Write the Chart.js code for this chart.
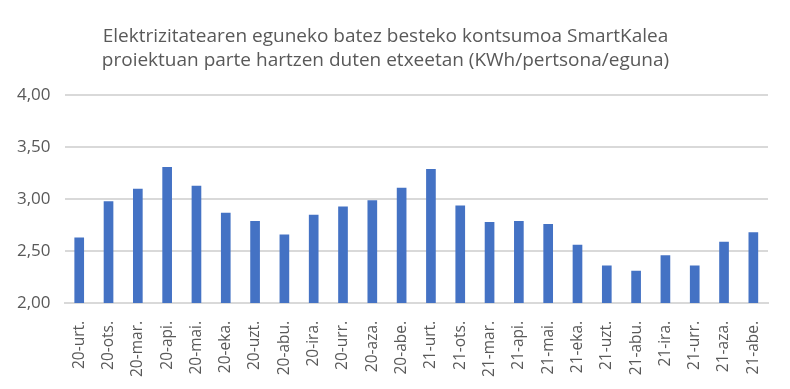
<!DOCTYPE html>
<html>
<head>
<meta charset="utf-8">
<script src="https://cdn.jsdelivr.net/npm/chart.js@4/dist/chart.umd.min.js"></script>
<style>
	html, body { margin: 0; padding: 0; background: #fff; }
	#wrap { width: 790px; height: 389px; }
</style>
</head>
<body>
<div id="wrap"><canvas id="chart" width="790" height="389"></canvas></div>
<script>
// Month labels (year-month, Basque abbreviations)
const months = [
	'20-urt.', '20-ots.', '20-mar.', '20-api.', '20-mai.', '20-eka.',
	'20-uzt.', '20-abu.', '20-ira.', '20-urr.', '20-aza.', '20-abe.',
	'21-urt.', '21-ots.', '21-mar.', '21-api.', '21-mai.', '21-eka.',
	'21-uzt.', '21-abu.', '21-ira.', '21-urr.', '21-aza.', '21-abe.'
];

// Daily consumption per person (KWh)
const consumption = [
	2.63, 2.98, 3.10, 3.31, 3.13, 2.87,
	2.79, 2.66, 2.85, 2.93, 2.99, 3.11,
	3.29, 2.94, 2.78, 2.79, 2.76, 2.56,
	2.36, 2.31, 2.46, 2.36, 2.59, 2.68
];

const titleLines = [
	'Elektrizitatearen eguneko batez besteko kontsumoa SmartKalea',
	'proiektuan parte hartzen duten etxeetan (KWh/pertsona/eguna)'
];

const textColor = '#595959';
const fontFamily = '"Open Sans", "Noto Sans", sans-serif';

new Chart(document.getElementById('chart'), {
	type: 'bar',
	data: {
		labels: months,
		datasets: [
			{
				data: consumption,
				backgroundColor: '#4472c4',
				borderWidth: 0,
				barPercentage: 0.33,
				categoryPercentage: 1
			}
		]
	},
	options: {
		responsive: false,
		animation: false,
		layout: {
			padding: { left: 3, right: 22, top: 24, bottom: 2 }
		},
		plugins: {
			legend: { display: false },
			tooltip: { enabled: false },
			title: {
				display: true,
				text: titleLines,
				color: textColor,
				font: { family: fontFamily, size: 19, weight: 'normal', lineHeight: 1.3 },
				padding: { top: 0, bottom: 22 }
			}
		},
		scales: {
			x: {
				grid: { display: false },
				border: { color: '#d9d9d9', width: 2 },
				ticks: {
					color: textColor,
					font: { family: fontFamily, size: 15.5 },
					minRotation: 90,
					maxRotation: 90,
					autoSkip: false,
					padding: 10
				}
			},
			y: {
				min: 2,
				max: 4,
				grid: { color: '#d9d9d9', lineWidth: 2, drawTicks: false },
				border: { display: false },
				ticks: {
					stepSize: 0.5,
					color: textColor,
					font: { family: fontFamily, size: 17 },
					padding: 14,
					callback: (v) => v.toFixed(2).replace('.', ',')
				}
			}
		}
	}
});
</script>
</body>
</html>
